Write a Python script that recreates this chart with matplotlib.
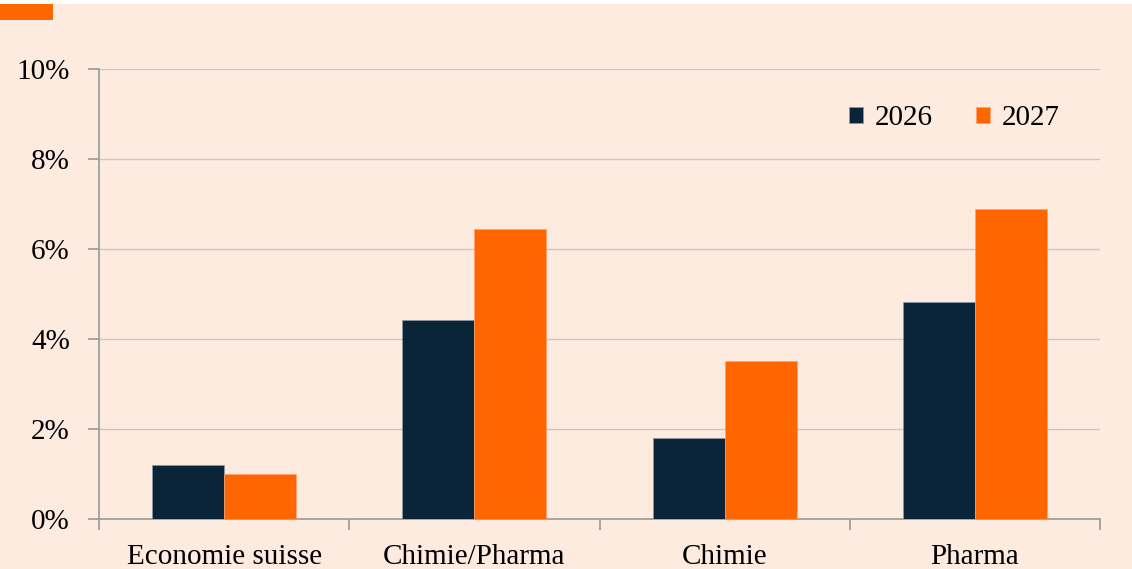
import matplotlib.pyplot as plt
from matplotlib.patches import Rectangle
import numpy as np

# Donnees
categories = ['Economie suisse', 'Chimie/Pharma', 'Chimie', 'Pharma']
v2026 = [1.2, 4.42, 1.8, 4.83]
v2027 = [0.99, 6.44, 3.51, 6.89]
series_labels = ['2026', '2027']
yticks = [0, 2, 4, 6, 8, 10]

bg = '#FDEBDF'
dark = '#0A2438'
orange = '#FF6600'

plt.rcParams['font.family'] = ['Liberation Serif', 'DejaVu Serif']

fig = plt.figure(figsize=(11.32, 5.69), dpi=100)
fig.patch.set_facecolor(bg)
# bande blanche en haut + petit rectangle orange
fig.add_artist(Rectangle((0, 1 - 4 / 569), 1, 4 / 569, transform=fig.transFigure,
                         facecolor='white', edgecolor='none'))
fig.add_artist(Rectangle((0, 1 - 20 / 569), 53 / 1132, 16 / 569, transform=fig.transFigure,
                         facecolor=orange, edgecolor='none'))

ax = fig.add_axes([99 / 1132, 1 - 519 / 569, 1001 / 1132, 450 / 569])
ax.set_facecolor('none')

x = np.arange(len(categories))
w = 0.288
ax.bar(x - w / 2, v2026, w, color=dark, edgecolor='#8a9aa6', linewidth=0.5, label=series_labels[0], zorder=3)
ax.bar(x + w / 2, v2027, w, color=orange, edgecolor='#ffa070', linewidth=0.5, label=series_labels[1], zorder=3)

ax.set_xlim(-0.5, len(categories) - 0.5)
ax.set_ylim(0, 10)
ax.set_yticks(yticks)
ax.set_yticklabels([f'{t}%' for t in yticks], fontsize=21)
ax.yaxis.grid(True, color='#c8c8c8', linewidth=1, zorder=0)

ax.set_xticks(x)
ax.set_xticklabels(categories, fontsize=21)
ax.set_xticks(np.arange(-0.5, len(categories)), minor=True)
ax.tick_params(axis='x', which='major', length=0, pad=18)
ax.tick_params(axis='x', which='minor', length=8, color='#999999', width=1.2)
ax.tick_params(axis='y', length=8, color='#999999', width=1.2, pad=13)

for s in ['top', 'right']:
    ax.spines[s].set_visible(False)
for s in ['left', 'bottom']:
    ax.spines[s].set_color('#999999')
    ax.spines[s].set_linewidth(1.2)

leg = ax.legend(loc='center right', bbox_to_anchor=(0.96, 0.891), ncol=2, frameon=False,
                fontsize=21, handlelength=0.48, handleheight=0.48, handletextpad=0.4,
                columnspacing=1.5, borderpad=0, borderaxespad=0)

fig.savefig('out.png', dpi=100, facecolor=fig.get_facecolor())
